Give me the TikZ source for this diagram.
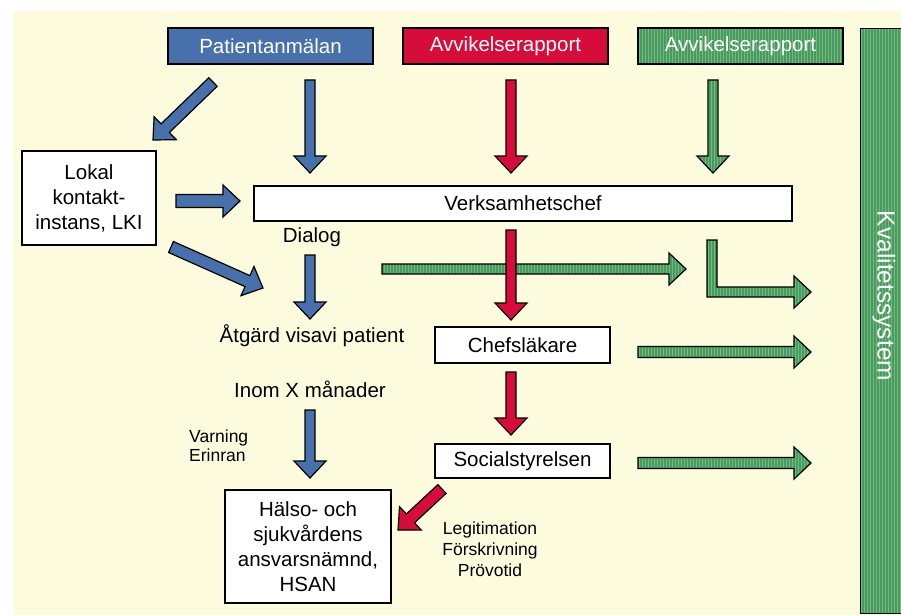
\documentclass[tikz,border=0pt]{standalone}
\usepackage{fontspec}
\setmainfont{Liberation Sans}
\usetikzlibrary{calc,patterns}
\definecolor{bgy}{RGB}{253,251,222}
\definecolor{bblue}{RGB}{72,112,170}
\definecolor{bred}{RGB}{214,12,58}
\definecolor{bgreen}{RGB}{66,156,100}
\definecolor{lgreen}{RGB}{128,182,116}
\newcommand{\blockarr}[5]{% style, from, to, shaft half width, head half width
  \coordinate (ban) at ($(#3)!17pt!(#2)$);
  \draw[#1] ($(#2)!#4pt!90:(#3)$) -- ($(ban)!#4pt!90:(#3)$) -- ($(ban)!#5pt!90:(#3)$) -- (#3)
    -- ($(ban)!#5pt!-90:(#3)$) -- ($(ban)!#4pt!-90:(#3)$) -- ($(#2)!#4pt!-90:(#3)$) -- cycle;}
\begin{document}
\begin{tikzpicture}[x=1pt,y=-1pt,
  every node/.style={font=\fontsize{20.5}{25}\selectfont},
  wbox/.style={draw, fill=white, line width=1.4pt, inner sep=0pt, align=center},
  topbox/.style={draw, line width=1.4pt, inner sep=0pt, minimum width=205pt, minimum height=36pt, text=white},
  bluearr/.style={draw, line width=1.2pt, fill=bblue, line join=miter},
  redarr/.style={draw, line width=1.2pt, fill=bred, line join=miter},
  greenarr/.style={draw, line width=1.2pt, preaction={fill=bgreen}, pattern=vertical lines, pattern color=lgreen, line join=miter},
  lbl/.style={inner sep=0pt, align=center}]
\useasboundingbox (0,0) rectangle (901,615);
\fill[white] (0,0) rectangle (901,615);
\fill[bgy] (13,11) rectangle (901,615);

% top boxes
\node[topbox, fill=bblue] (pat) at (270.5,46) {Patientanmälan};
\node[topbox, fill=bred] (avr) at (505.5,46) {Avvikelserapport};
\node[topbox, preaction={fill=bgreen}, pattern=vertical lines, pattern color=lgreen] (avg) at (740.5,46) {};
\node[text=white, inner sep=0pt] (avgt) at (740.5,46) {Avvikelserapport};

% quality system bar
\node[draw, line width=1.4pt, preaction={fill=bgreen}, pattern=vertical lines, pattern color=lgreen,
      minimum width=46pt, minimum height=585pt, inner sep=0pt, anchor=north west] (kval) at (860,28) {};
\node[rotate=-90, text=white, inner sep=0pt, font=\fontsize{24.5}{28}\selectfont] (kvalt) at (884,296) {Kvalitetssystem};

% white boxes
\node[wbox, minimum width=134pt, minimum height=94pt] (lki) at (89,198) {Lokal\\kontakt-\\instans, LKI};
\node[wbox, minimum width=538pt, minimum height=35pt] (vc) at (523,203.5) {Verksamhetschef};
\node[wbox, minimum width=175pt, minimum height=36pt] (cl) at (522.5,345) {Chefsläkare};
\node[wbox, minimum width=175pt, minimum height=34pt] (ss) at (522.5,461) {Socialstyrelsen};
\node[wbox, minimum width=166pt, minimum height=113pt] (hsan) at (308,546.5) {Hälso- och\\sjukvårdens\\ansvarsnämnd,\\HSAN};

% labels
\node[lbl] (dia) at (312,237) {Dialog};
\node[lbl] (atg) at (312,336) {Åtgärd visavi patient};
\node[lbl] (inom) at (310,389) {Inom X månader};
\node[lbl, anchor=west, align=left, font=\fontsize{17.5}{19}\selectfont] (varn) at (189,446) {Varning\\Erinran};
\node[lbl, font=\fontsize{17.5}{21}\selectfont] (legi) at (490,549) {Legitimation\\Förskrivning\\Prövotid};

% arrow end coordinates
\coordinate (a1s) at (213,82);  \coordinate (a1e) at (153,140);
\coordinate (a2s) at (310,80);  \coordinate (a2e) at (310,173);
\coordinate (a3s) at (511,80);  \coordinate (a3e) at (511,173);
\coordinate (a4s) at (713,80);  \coordinate (a4e) at (713,173);
\coordinate (a5s) at (176,201); \coordinate (a5e) at (240,201);
\coordinate (a6s) at (171,247); \coordinate (a6e) at (263,288);
\coordinate (a7s) at (310,255); \coordinate (a7e) at (310,319);
\coordinate (a8s) at (382,269); \coordinate (a8e) at (686,269);
\coordinate (a9s) at (511,230); \coordinate (a9e) at (511,320);
\coordinate (a11s) at (511,372); \coordinate (a11e) at (511,435);
\coordinate (a12s) at (638,352); \coordinate (a12e) at (811,352);
\coordinate (a13s) at (638,463); \coordinate (a13e) at (811,463);
\coordinate (a14s) at (310,410); \coordinate (a14e) at (310,478);
\coordinate (a15s) at (442,489); \coordinate (a15e) at (398,530);

\blockarr{bluearr}{a1s}{a1e}{6}{16}
\blockarr{bluearr}{a2s}{a2e}{5}{16}
\blockarr{redarr}{a3s}{a3e}{5}{16}
\blockarr{greenarr}{a4s}{a4e}{5}{16}
\blockarr{bluearr}{a5s}{a5e}{6.5}{16}
\blockarr{bluearr}{a6s}{a6e}{6}{16}
\blockarr{bluearr}{a7s}{a7e}{5}{16}
\blockarr{greenarr}{a8s}{a8e}{5}{16}
\blockarr{redarr}{a9s}{a9e}{5}{16}
\blockarr{redarr}{a11s}{a11e}{5}{16}
\blockarr{greenarr}{a12s}{a12e}{5.5}{16}
\blockarr{greenarr}{a13s}{a13e}{5.5}{16}
\blockarr{bluearr}{a14s}{a14e}{5}{16}
\blockarr{redarr}{a15s}{a15e}{6}{16}

% L-shaped green arrow
\coordinate (lend) at (811,292);
\coordinate (l1) at (707,240);
\coordinate (l2) at (717,240);
\coordinate (l3) at (717,287);
\coordinate (l4) at (794,287);
\coordinate (l5) at (794,276);
\coordinate (l6) at (794,308);
\coordinate (l7) at (794,297);
\coordinate (l8) at (707,297);
\draw[greenarr] (l1) -- (l2) -- (l3) -- (l4) -- (l5) -- (lend) -- (l6) -- (l7) -- (l8) -- cycle;
\end{tikzpicture}
\end{document}
